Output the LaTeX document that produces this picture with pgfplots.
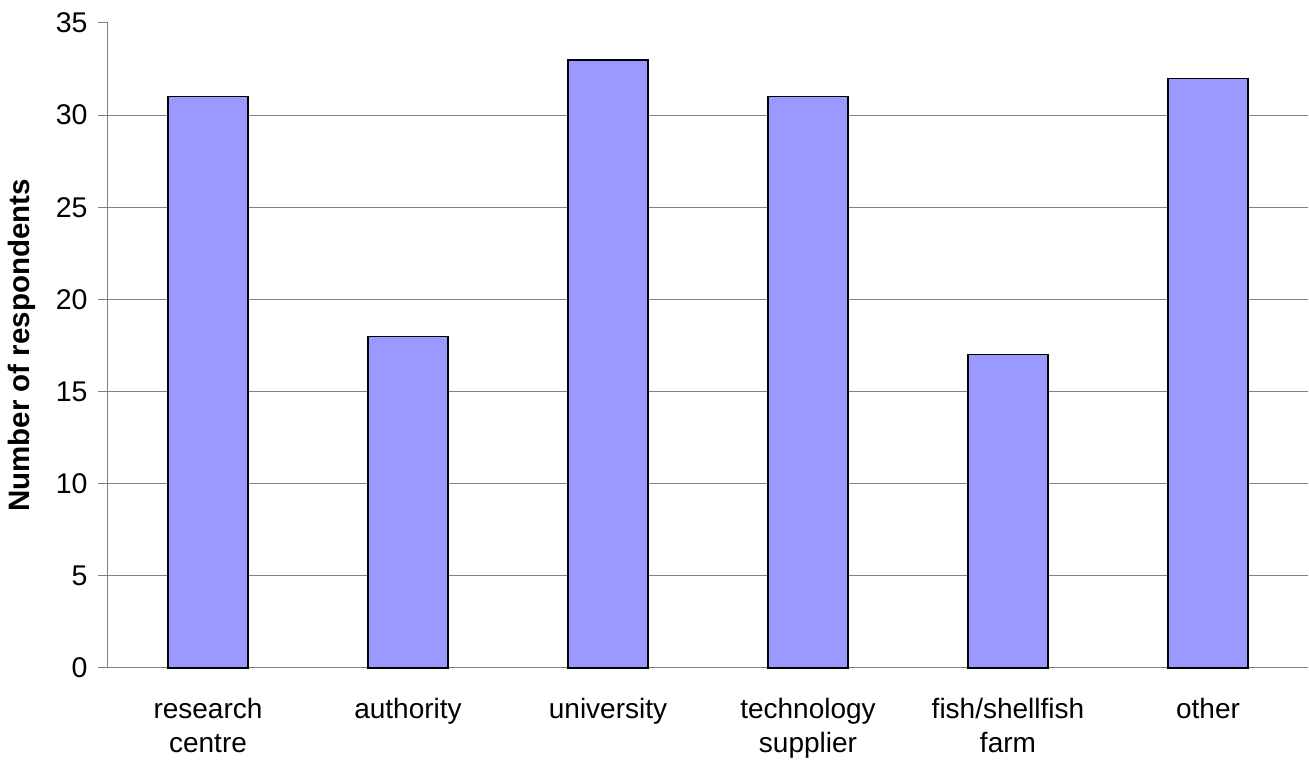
\documentclass[border=0pt]{standalone}
\usepackage{pgfplots}
\pgfplotsset{compat=1.18}
\usepackage{fontspec}
\setmainfont{Liberation Sans}
\definecolor{barblue}{RGB}{153,153,255}
\definecolor{axisgray}{RGB}{128,128,128}
\begin{document}
\begin{tikzpicture}
\useasboundingbox (-108pt,-92pt) rectangle (1201pt,668pt);
\begin{axis}[
  scale only axis,
  width=1200pt, height=645pt,
  xmin=-0.5, xmax=5.5,
  ymin=0, ymax=35,
  axis x line*=bottom,
  axis y line*=left,
  axis line style={axisgray, line width=1pt, -},
  xtick={0,1,2,3,4,5},
  xticklabels={{research\\centre},{authority},{university},{technology\\supplier},{fish/shellfish\\farm},{other}},
  xtick style={draw=none},
  xticklabel style={align=center, font=\fontsize{28}{34}\selectfont, yshift=-17pt},
  ytick={0,5,...,30},
  extra y ticks={35},
  extra y tick style={grid=none},
  ymajorgrids,
  grid style={axisgray, line width=1pt},
  ytick style={axisgray, line width=1pt},
  tick align=outside,
  major tick length=10pt,
  yticklabel style={font=\fontsize{28.5}{34}\selectfont, xshift=-7pt},
  /pgf/number format/assume math mode=true,
  ylabel={\bfseries Number of respondents},
  ylabel style={at={(axis description cs:-0.0717,0.5)}, anchor=center, font=\fontsize{29.5}{34}\selectfont},
  bar width=80pt,
  clip=false,
]
\addplot[ybar, fill=barblue, draw=black, line width=1.3pt] coordinates {
  (0,31) (1,18) (2,33) (3,31) (4,17) (5,32)
};
\end{axis}
\end{tikzpicture}
\end{document}
